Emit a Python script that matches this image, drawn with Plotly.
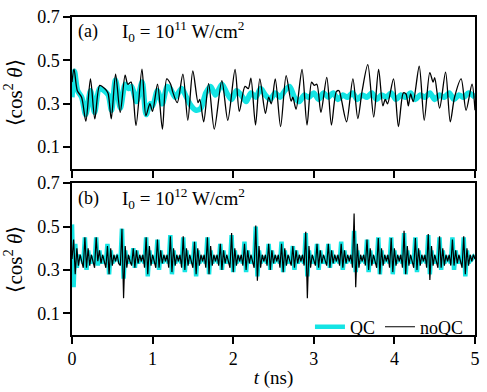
import plotly.graph_objects as go

# ---------------- panel (a): I0 = 1e11 W/cm^2 ----------------
t_a_noqc = [0.000, 0.025, 0.066, 0.119, 0.172, 0.229, 0.283, 0.344, 0.405, 0.446,
            0.487, 0.541, 0.598, 0.659, 0.692, 0.733, 0.794, 0.868, 0.917, 0.966,
            0.999, 1.061, 1.122, 1.175, 1.224, 1.250, 1.306, 1.376, 1.437, 1.499,
            1.564, 1.585, 1.634, 1.695, 1.765, 1.859, 1.933, 2.023, 2.076, 2.146,
            2.187, 2.220, 2.277, 2.330, 2.400, 2.440, 2.473, 2.522, 2.588, 2.657,
            2.719, 2.740, 2.780, 2.854, 2.916, 2.973, 3.006, 3.038, 3.088, 3.161,
            3.219, 3.280, 3.313, 3.342, 3.407, 3.485, 3.546, 3.600, 3.670, 3.743,
            3.804, 3.857, 3.886, 3.915, 3.989, 4.050, 4.111, 4.144, 4.173, 4.201,
            4.234, 4.308, 4.370, 4.439, 4.480, 4.500, 4.561, 4.635, 4.693, 4.746,
            4.828, 4.889, 4.963, 5.000]
cos2_a_noqc = [0.40, 0.46, 0.36, 0.33, 0.22, 0.415, 0.23, 0.385, 0.37, 0.35,
               0.23, 0.437, 0.26, 0.432, 0.39, 0.40, 0.20, 0.46, 0.245, 0.30,
               0.265, 0.39, 0.183, 0.415, 0.39, 0.355, 0.305, 0.437, 0.224, 0.451,
               0.305, 0.32, 0.217, 0.393, 0.183, 0.407, 0.224, 0.458, 0.265, 0.38,
               0.37, 0.418, 0.202, 0.415, 0.256, 0.33, 0.30, 0.415, 0.195, 0.43,
               0.312, 0.33, 0.275, 0.458, 0.202, 0.40, 0.385, 0.39, 0.26, 0.422,
               0.202, 0.356, 0.36, 0.32, 0.217, 0.415, 0.232, 0.36, 0.48, 0.239,
               0.458, 0.29, 0.32, 0.30, 0.415, 0.195, 0.35, 0.345, 0.29, 0.345,
               0.31, 0.473, 0.224, 0.444, 0.40, 0.42, 0.28, 0.446, 0.217, 0.33,
               0.415, 0.27, 0.39, 0.27]

t_a_qc = [0.00, 0.03, 0.07, 0.12, 0.17, 0.23, 0.28, 0.34, 0.40, 0.45,
          0.49, 0.54, 0.60, 0.66, 0.70, 0.74, 0.80, 0.87, 0.92, 0.97,
          1.00, 1.06, 1.12, 1.18, 1.22, 1.28, 1.36, 1.42, 1.48, 1.54,
          1.60, 1.66, 1.72, 1.78, 1.86, 1.92, 1.98, 2.04, 2.10, 2.16,
          2.22, 2.28, 2.34, 2.40, 2.46, 2.52, 2.58, 2.64, 2.70, 2.76,
          2.82, 2.88, 2.94, 3.00, 3.06, 3.12, 3.18, 3.24, 3.30, 3.36,
          3.42, 3.48, 3.54, 3.60, 3.66, 3.72, 3.78, 3.84, 3.90, 3.96,
          4.02, 4.08, 4.14, 4.20, 4.26, 4.32, 4.38, 4.44, 4.50, 4.56,
          4.62, 4.68, 4.74, 4.80, 4.86, 4.92, 5.00]
cos2_a_qc = [0.33, 0.45, 0.36, 0.33, 0.25, 0.36, 0.26, 0.37, 0.36, 0.34,
             0.27, 0.41, 0.28, 0.39, 0.37, 0.38, 0.31, 0.40, 0.25, 0.30,
             0.29, 0.36, 0.30, 0.38, 0.37, 0.33, 0.37, 0.33, 0.29, 0.27,
             0.28, 0.35, 0.38, 0.34, 0.39, 0.35, 0.32, 0.36, 0.34, 0.31,
             0.35, 0.33, 0.37, 0.34, 0.32, 0.35, 0.33, 0.36, 0.38, 0.33,
             0.31, 0.34, 0.33, 0.35, 0.32, 0.35, 0.33, 0.35, 0.32, 0.34,
             0.33, 0.35, 0.32, 0.34, 0.33, 0.35, 0.32, 0.34, 0.33, 0.35,
             0.32, 0.34, 0.33, 0.35, 0.32, 0.34, 0.33, 0.35, 0.32, 0.34,
             0.33, 0.35, 0.32, 0.34, 0.33, 0.35, 0.33]

# ---------------- panel (b): I0 = 1e12 W/cm^2 (sampled every 0.02 ns) ----------------
cos2_b_noqc = [
    0.35, 0.44, 0.28, 0.40, 0.32, 0.37, 0.34, 0.31, 0.45, 0.31,   # 0.00
    0.40, 0.32, 0.37, 0.34, 0.31, 0.45, 0.34, 0.39, 0.33, 0.37,   # 0.20
    0.34, 0.31, 0.41, 0.28, 0.40, 0.32, 0.37, 0.34, 0.37, 0.33,   # 0.40
    0.32, 0.49, 0.17, 0.41, 0.31, 0.37, 0.34, 0.32, 0.40, 0.31,   # 0.60
    0.39, 0.33, 0.37, 0.34, 0.37, 0.31, 0.45, 0.28, 0.41, 0.32,   # 0.80
    0.37, 0.34, 0.31, 0.44, 0.31, 0.39, 0.33, 0.37, 0.34, 0.37,   # 1.00
    0.31, 0.455, 0.29, 0.40, 0.32, 0.37, 0.34, 0.37, 0.31, 0.455, # 1.20
    0.30, 0.40, 0.32, 0.37, 0.34, 0.31, 0.43, 0.28, 0.40, 0.32,   # 1.40
    0.37, 0.34, 0.37, 0.31, 0.45, 0.28, 0.41, 0.32, 0.37, 0.34,   # 1.60
    0.37, 0.32, 0.42, 0.30, 0.39, 0.33, 0.37, 0.34, 0.31, 0.47,   # 1.80
    0.29, 0.40, 0.32, 0.37, 0.34, 0.37, 0.32, 0.42, 0.30, 0.39,   # 2.00
    0.33, 0.37, 0.34, 0.31, 0.505, 0.25, 0.41, 0.31, 0.37, 0.34,  # 2.20
    0.37, 0.32, 0.42, 0.30, 0.39, 0.33, 0.37, 0.34, 0.37, 0.31,   # 2.40
    0.42, 0.29, 0.40, 0.32, 0.37, 0.34, 0.32, 0.41, 0.31, 0.39,   # 2.60
    0.33, 0.37, 0.34, 0.37, 0.32, 0.476, 0.17, 0.41, 0.31, 0.37,  # 2.80
    0.34, 0.32, 0.42, 0.31, 0.39, 0.33, 0.37, 0.34, 0.32, 0.42,   # 3.00
    0.31, 0.39, 0.33, 0.37, 0.34, 0.37, 0.32, 0.42, 0.31, 0.39,   # 3.20
    0.33, 0.37, 0.34, 0.37, 0.31, 0.56, 0.22, 0.42, 0.31, 0.37,   # 3.40
    0.34, 0.37, 0.32, 0.44, 0.30, 0.40, 0.32, 0.37, 0.34, 0.31,   # 3.60
    0.447, 0.28, 0.40, 0.32, 0.37, 0.34, 0.37, 0.31, 0.447, 0.29, # 3.80
    0.40, 0.32, 0.37, 0.34, 0.37, 0.31, 0.48, 0.28, 0.41, 0.32,   # 4.00
    0.37, 0.34, 0.31, 0.447, 0.30, 0.40, 0.32, 0.37, 0.34, 0.37,  # 4.20
    0.31, 0.465, 0.254, 0.41, 0.32, 0.37, 0.34, 0.31, 0.455, 0.31,# 4.40
    0.40, 0.32, 0.37, 0.34, 0.37, 0.32, 0.44, 0.32, 0.39, 0.33,   # 4.60
    0.37, 0.34, 0.31, 0.455, 0.28, 0.40, 0.32, 0.37, 0.34, 0.37,  # 4.80
    0.35]                                                          # 5.00

cos2_b_qc = [
    0.51, 0.22, 0.42, 0.31, 0.37, 0.35, 0.36, 0.33, 0.45, 0.30,   # 0.00
    0.39, 0.33, 0.36, 0.35, 0.33, 0.45, 0.32, 0.39, 0.33, 0.36,   # 0.20
    0.35, 0.33, 0.42, 0.28, 0.39, 0.33, 0.36, 0.35, 0.36, 0.35,   # 0.40
    0.33, 0.49, 0.26, 0.39, 0.33, 0.36, 0.35, 0.33, 0.40, 0.31,   # 0.60
    0.39, 0.33, 0.36, 0.35, 0.36, 0.33, 0.45, 0.27, 0.39, 0.33,   # 0.80
    0.36, 0.35, 0.33, 0.44, 0.30, 0.39, 0.33, 0.36, 0.35, 0.36,   # 1.00
    0.33, 0.46, 0.28, 0.39, 0.33, 0.36, 0.35, 0.36, 0.33, 0.45,   # 1.20
    0.29, 0.39, 0.33, 0.36, 0.35, 0.33, 0.43, 0.27, 0.39, 0.33,   # 1.40
    0.36, 0.35, 0.36, 0.33, 0.45, 0.28, 0.39, 0.33, 0.36, 0.35,   # 1.60
    0.36, 0.33, 0.42, 0.30, 0.39, 0.33, 0.36, 0.35, 0.33, 0.46,   # 1.80
    0.29, 0.39, 0.33, 0.36, 0.35, 0.36, 0.33, 0.43, 0.29, 0.39,   # 2.00
    0.33, 0.36, 0.35, 0.33, 0.50, 0.27, 0.39, 0.33, 0.36, 0.35,   # 2.20
    0.36, 0.33, 0.42, 0.30, 0.39, 0.33, 0.36, 0.35, 0.36, 0.33,   # 2.40
    0.43, 0.29, 0.39, 0.33, 0.36, 0.35, 0.33, 0.41, 0.30, 0.39,   # 2.60
    0.33, 0.36, 0.35, 0.36, 0.33, 0.47, 0.27, 0.39, 0.33, 0.36,   # 2.80
    0.35, 0.33, 0.42, 0.30, 0.39, 0.33, 0.36, 0.35, 0.33, 0.42,   # 3.00
    0.31, 0.39, 0.33, 0.36, 0.35, 0.36, 0.33, 0.43, 0.30, 0.39,   # 3.20
    0.33, 0.36, 0.35, 0.36, 0.33, 0.48, 0.29, 0.39, 0.33, 0.36,   # 3.40
    0.35, 0.36, 0.33, 0.44, 0.29, 0.39, 0.33, 0.36, 0.35, 0.33,   # 3.60
    0.45, 0.28, 0.39, 0.33, 0.36, 0.35, 0.36, 0.33, 0.45, 0.28,   # 3.80
    0.39, 0.33, 0.36, 0.35, 0.36, 0.33, 0.47, 0.28, 0.39, 0.33,   # 4.00
    0.36, 0.35, 0.33, 0.45, 0.29, 0.39, 0.33, 0.36, 0.35, 0.36,   # 4.20
    0.33, 0.46, 0.28, 0.39, 0.33, 0.36, 0.35, 0.33, 0.45, 0.30,   # 4.40
    0.39, 0.33, 0.36, 0.35, 0.36, 0.33, 0.45, 0.30, 0.39, 0.33,   # 4.60
    0.36, 0.35, 0.33, 0.45, 0.27, 0.39, 0.33, 0.36, 0.35, 0.36,   # 4.80
    0.35]                                                          # 5.00

dt_b = 0.02
t_b_noqc = [round(i * dt_b, 2) for i in range(len(cos2_b_noqc))]
t_b_qc = [round(i * dt_b, 2) for i in range(len(cos2_b_qc))]

x_ticks = [0, 1, 2, 3, 4, 5]
y_ticks = [0.1, 0.3, 0.5, 0.7]
panel_labels = ["(a)", "(b)"]
intensity_labels = ["I<sub>0</sub> = 10<sup>11</sup> W/cm<sup>2</sup>",
                    "I<sub>0</sub> = 10<sup>12</sup> W/cm<sup>2</sup>"]

QC_COLOR = "#14e4e4"
FONT = "Liberation Serif"

fig = go.Figure()
# panel (a)
fig.add_trace(go.Scatter(x=t_a_qc, y=cos2_a_qc, mode="lines", xaxis="x2", yaxis="y2",
                         line=dict(color=QC_COLOR, width=5.5, shape="spline", smoothing=0.8),
                         showlegend=False, hoverinfo="skip"))
fig.add_trace(go.Scatter(x=t_a_noqc, y=cos2_a_noqc, mode="lines", xaxis="x2", yaxis="y2",
                         line=dict(color="black", width=1.3, shape="spline", smoothing=0.8),
                         showlegend=False, hoverinfo="skip"))
# panel (b)
fig.add_trace(go.Scatter(x=t_b_qc, y=cos2_b_qc, mode="lines", name="QC",
                         line=dict(color=QC_COLOR, width=4.5)))
fig.add_trace(go.Scatter(x=t_b_noqc, y=cos2_b_noqc, mode="lines", name="noQC",
                         line=dict(color="black", width=1.2)))

axis_common = dict(showline=True, linecolor="black", linewidth=1.5, mirror=True,
                   ticks="outside", ticklen=7, tickwidth=1.5, tickcolor="black",
                   showgrid=False, zeroline=False,
                   tickfont=dict(family=FONT, size=18, color="black"))

ytitle = "\u27e8cos<sup>2</sup> <i>\u03b8</i>\u27e9"

fig.update_layout(
    width=487, height=392,
    margin=dict(l=72, r=8, t=7, b=52),
    paper_bgcolor="white", plot_bgcolor="white",
    font=dict(family=FONT, size=18, color="black"),
    xaxis=dict(range=[0, 5], tickvals=x_ticks, domain=[0, 1], anchor="y",
               title=dict(text="<i>t</i> (ns)", standoff=2,
                          font=dict(family=FONT, size=19)), **axis_common),
    yaxis=dict(range=[0, 0.7], tickvals=y_ticks, domain=[0, 0.4775], anchor="x",
               title=dict(text=ytitle, standoff=11, font=dict(family=FONT, size=21)),
               **axis_common),
    xaxis2=dict(range=[0, 5], tickvals=x_ticks, domain=[0, 1], anchor="y2",
                matches="x", showticklabels=False, **axis_common),
    yaxis2=dict(range=[0, 0.7], tickvals=y_ticks, domain=[0.5225, 1], anchor="x2",
                title=dict(text=ytitle, standoff=11, font=dict(family=FONT, size=21)),
                **axis_common),
    legend=dict(orientation="h", x=0.985, xanchor="right", y=0.025, yanchor="middle",
                bgcolor="rgba(0,0,0,0)", font=dict(family=FONT, size=18),
                itemwidth=30, tracegroupgap=0),
    showlegend=True,
)

label_y = [0.955, 0.43]
for lab, inten, yy in zip(panel_labels, intensity_labels, label_y):
    fig.add_annotation(x=0.01, y=yy, xref="paper", yref="paper", text=lab,
                       showarrow=False, xanchor="left", yanchor="middle",
                       font=dict(family=FONT, size=18, color="black"))
    fig.add_annotation(x=0.118, y=yy, xref="paper", yref="paper", text=inten,
                       showarrow=False, xanchor="left", yanchor="middle",
                       font=dict(family=FONT, size=19, color="black"))

fig.write_html("out.html", config={"displayModeBar": False},
               post_script="document.body.style.margin='0';")
